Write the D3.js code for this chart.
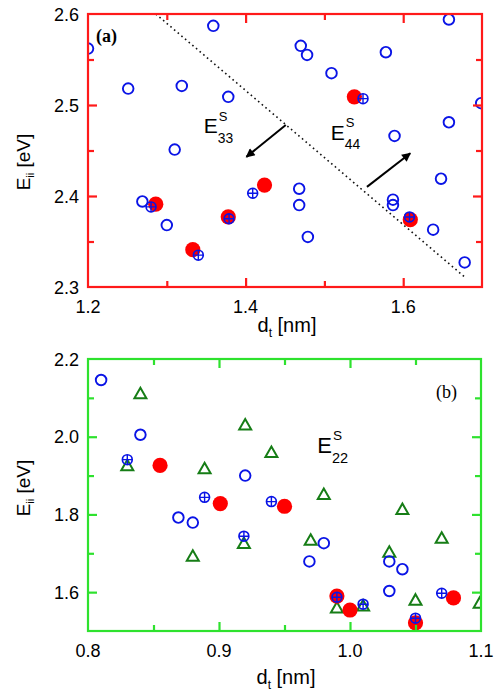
<!DOCTYPE html>
<html><head><meta charset="utf-8">
<script src="https://cdn.jsdelivr.net/npm/d3@7"></script>
<style>body{margin:0;background:#fff}svg{display:block}</style>
</head><body><div id="c"></div>
<script>
// ---- Panel (a) data: E33 / E44 ----
const aOpen = [[1.200,2.562],[1.251,2.518],[1.319,2.521],[1.378,2.509],[1.359,2.587],[1.310,2.451],[1.470,2.565],[1.478,2.555],[1.509,2.535],[1.578,2.558],[1.658,2.594],[1.699,2.502],[1.658,2.481],[1.589,2.466],[1.648,2.419],[1.269,2.394],[1.300,2.368],[1.468,2.408],[1.468,2.390],[1.479,2.355],[1.587,2.396],[1.587,2.390],[1.638,2.363],[1.678,2.327]];
const aCross = [[1.549,2.507],[1.280,2.388],[1.340,2.335],[1.379,2.375],[1.409,2.403],[1.608,2.377]];
const aRed = [[1.538,2.509],[1.286,2.391],[1.333,2.341],[1.378,2.377],[1.424,2.412],[1.609,2.374]];
const aDotted = [[1.286,2.6],[1.678,2.311]];
const aArrows = [[[1.451,2.478],[1.401,2.443]],[[1.554,2.410],[1.609,2.447]]];
const aXMajor = [1.4,1.6];
const aXMinor = [1.3,1.5];
const aXLabels = [1.2,1.4,1.6];
const aYMajor = [2.4,2.5];
const aYMinor = [2.35,2.45,2.55];
const aYLabels = [2.3,2.4,2.5,2.6];

// ---- Panel (b) data: E22 ----
const bOpen = [[0.810,2.146],[0.840,2.005],[0.869,1.792],[0.880,1.779],[0.920,1.900],[0.980,1.726],[0.969,1.679],[1.030,1.679],[1.040,1.659],[1.030,1.603]];
const bCross = [[0.830,1.941],[0.889,1.844],[0.919,1.744],[0.940,1.833],[0.990,1.587],[1.010,1.569],[1.050,1.533],[1.070,1.597]];
const bRed = [[0.855,1.926],[0.901,1.828],[0.950,1.821],[0.990,1.590],[1.000,1.554],[1.050,1.521],[1.079,1.585]];
const bTri = [[0.840,2.113],[0.830,1.928],[0.889,1.920],[0.920,2.033],[0.880,1.695],[0.919,1.728],[0.940,1.962],[0.980,1.854],[1.040,1.815],[0.970,1.736],[0.990,1.562],[1.010,1.567],[1.030,1.705],[1.050,1.582],[1.070,1.741],[1.099,1.574]];
const bXMajor = [0.9,1.0];
const bXMinor = [0.85,0.95,1.05];
const bXLabels = [0.8,0.9,1.0,1.1];
const bYMajor = [1.6,1.8,2.0];
const bYMinor = [1.7,1.9,2.1];
const bYLabels = [1.6,1.8,2.0,2.2];

const W=494,H=694;
const SANS='"Liberation Sans",Arial,Helvetica,sans-serif';
const SERIF='"Liberation Serif","Times New Roman",serif';
const BLUE="#0a14e6", RED="#ff0000", DKGREEN="#167d16";
const svg=d3.select("#c").append("svg").attr("width",W).attr("height",H)
  .attr("font-family",SANS);
const defs=svg.append("defs");

function axisTicks(o,x,y){
  const specs=[
    [d3.axisBottom,x,o.xMaj,9,`translate(0,${o.b})`],[d3.axisBottom,x,o.xMin,6,`translate(0,${o.b})`],
    [d3.axisTop,x,o.xMaj,9,`translate(0,${o.t})`],[d3.axisTop,x,o.xMin,6,`translate(0,${o.t})`],
    [d3.axisLeft,y,o.yMaj,9,`translate(${o.l},0)`],[d3.axisLeft,y,o.yMin,6,`translate(${o.l},0)`],
    [d3.axisRight,y,o.yMaj,9,`translate(${o.r},0)`],[d3.axisRight,y,o.yMin,6,`translate(${o.r},0)`]
  ];
  specs.forEach(([fn,sc,vals,len,tr])=>{
    const ax=svg.append("g").attr("transform",tr)
      .call(fn(sc).tickValues(vals).tickSizeInner(-len).tickSizeOuter(0).tickFormat(()=>""));
    ax.select(".domain").remove();
    ax.selectAll(".tick text").remove();
    ax.selectAll(".tick line").attr("stroke",o.frame).attr("stroke-width",2.2);
  });
}

function panel(o){
  const x=d3.scaleLinear().domain(o.xd).range([o.l,o.r]);
  const y=d3.scaleLinear().domain(o.yd).range([o.b,o.t]);
  const g=svg.append("g");
  const cid="clip"+o.id;
  defs.append("clipPath").attr("id",cid).append("rect")
    .attr("x",o.l).attr("y",o.t).attr("width",o.r-o.l).attr("height",o.b-o.t);
  g.selectAll(".xlab").data(o.xl).join("text").attr("class","xlab").attr("x",d=>x(d)).attr("y",o.b+26)
    .attr("text-anchor","middle").attr("font-size",18).text(d=>d3.format(".1f")(d));
  g.selectAll(".ylab").data(o.yl).join("text").attr("class","ylab").attr("x",o.l-9).attr("y",d=>y(d)+6.5)
    .attr("text-anchor","end").attr("font-size",18).text(d=>d3.format(".1f")(d));
  const pg=g.append("g").attr("clip-path",`url(#${cid})`);
  return {x,y,g,pg};
}

function drawMarks(P,tri,red,open,cross){
  const {x,y,pg}=P;
  if(tri) pg.selectAll(".tri").data(tri).join("path").attr("class","tri")
    .attr("d",d=>`M${x(d[0])},${y(d[1])-5}l6,10.5h-12z`)
    .attr("fill","none").attr("stroke",DKGREEN).attr("stroke-width",2);
  pg.selectAll(".red").data(red).join("circle").attr("class","red").attr("cx",d=>x(d[0])).attr("cy",d=>y(d[1]))
    .attr("r",7.6).attr("fill",RED);
  pg.selectAll(".op").data(open).join("circle").attr("class","op").attr("cx",d=>x(d[0])).attr("cy",d=>y(d[1]))
    .attr("r",5.3).attr("fill","none").attr("stroke",BLUE).attr("stroke-width",1.9);
  const cg=pg.selectAll(".cr").data(cross).join("g").attr("class","cr").attr("transform",d=>`translate(${x(d[0])},${y(d[1])})`);
  cg.append("circle").attr("r",4.9).attr("fill","none").attr("stroke",BLUE).attr("stroke-width",1.7);
  cg.append("path").attr("d","M-4.9,0H4.9M0,-4.9V4.9").attr("stroke",BLUE).attr("stroke-width",1.4);
}

function frame(o){
  svg.append("rect").attr("x",o.l).attr("y",o.t).attr("width",o.r-o.l).attr("height",o.b-o.t)
    .attr("fill","none").attr("stroke",o.frame).attr("stroke-width",2.2);
}

function eLabel(g,px,py,sub,fs){
  g.append("text").attr("x",px).attr("y",py).attr("font-size",fs).text("E");
  const ex=px+fs*0.667+1;
  g.append("text").attr("x",ex).attr("y",py-fs*0.58).attr("font-size",fs*0.62).text("S");
  g.append("text").attr("x",ex-1).attr("y",py+fs*0.45).attr("font-size",fs*0.66).text(sub);
}

function yTitle(cx,cy){
  const t=svg.append("text").attr("transform",`translate(${cx},${cy}) rotate(-90)`)
    .attr("text-anchor","middle").attr("font-size",19);
  t.append("tspan").text("E");
  t.append("tspan").attr("font-size",11).attr("dy",4).text("ii");
  t.append("tspan").attr("dy",-4).text(" [eV]");
}
function xTitle(cx,cy){
  const t=svg.append("text").attr("x",cx).attr("y",cy).attr("text-anchor","middle").attr("font-size",20);
  t.append("tspan").text("d");
  t.append("tspan").attr("font-size",12).attr("dy",5).text("t");
  t.append("tspan").attr("dy",-5).text(" [nm]");
}

// ---- Panel (a)
const oa={id:"a",l:88,r:482,t:14,b:287,xd:[1.2,1.7],yd:[2.3,2.6],xMaj:aXMajor,xMin:aXMinor,yMaj:aYMajor,yMin:aYMinor,xl:aXLabels,yl:aYLabels,frame:"#ff1a1a"};
const A=panel(oa);
A.pg.append("line").attr("x1",A.x(aDotted[0][0])).attr("y1",A.y(aDotted[0][1]))
  .attr("x2",A.x(aDotted[1][0])).attr("y2",A.y(aDotted[1][1]))
  .attr("stroke","#111").attr("stroke-width",1.6).attr("stroke-dasharray","1.6,3.2");
defs.append("marker").attr("id","ah").attr("viewBox","0 0 10 10").attr("refX",9).attr("refY",5)
  .attr("markerWidth",11).attr("markerHeight",9).attr("markerUnits","userSpaceOnUse").attr("orient","auto")
  .append("path").attr("d","M0,0L10,5L0,10z").attr("fill","#000");
A.g.selectAll(".arr").data(aArrows).join("line").attr("class","arr")
  .attr("x1",d=>A.x(d[0][0])).attr("y1",d=>A.y(d[0][1])).attr("x2",d=>A.x(d[1][0])).attr("y2",d=>A.y(d[1][1]))
  .attr("stroke","#000").attr("stroke-width",2).attr("marker-end","url(#ah)");
drawMarks(A,null,aRed,aOpen,aCross);
frame(oa);
axisTicks(oa,A.x,A.y);
eLabel(A.g,A.x(1.347),A.y(2.469),"33",21);
eLabel(A.g,A.x(1.508),A.y(2.462),"44",21);
svg.append("text").attr("x",96).attr("y",42).attr("font-family",SERIF)
  .attr("font-weight","bold").attr("font-size",18).text("(a)");
yTitle(30,162);
xTitle(287,332);

// ---- Panel (b)
const ob={id:"b",l:88,r:481,t:359,b:631,xd:[0.8,1.1],yd:[1.5,2.2],xMaj:bXMajor,xMin:bXMinor,yMaj:bYMajor,yMin:bYMinor,xl:bXLabels,yl:bYLabels,frame:"#2ee22e"};
const B=panel(ob);
drawMarks(B,bTri,bRed,bOpen,bCross);
frame(ob);
axisTicks(ob,B.x,B.y);
eLabel(B.g,B.x(0.975),B.y(1.959),"22",22);
svg.append("text").attr("x",436).attr("y",398).attr("font-family",SERIF)
  .attr("font-size",18).text("(b)");
yTitle(30,488);
xTitle(286,684);
</script></body></html>
